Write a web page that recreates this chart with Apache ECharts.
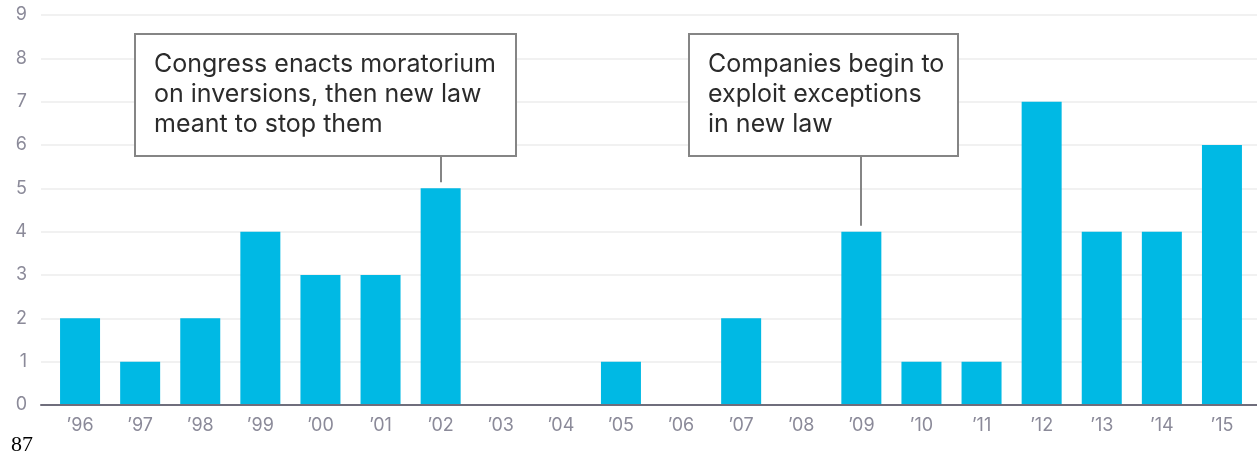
<!DOCTYPE html>
<html>
<head>
<meta charset="utf-8">
<style>
  html, body { margin: 0; padding: 0; background: #fff; }
  #chart { width: 1257px; height: 454px; }
  #pageno { position: absolute; left: 11px; top: 431px; font: 22px "Liberation Serif", "DejaVu Serif", serif; color: #000; }
</style>
<script src="https://cdn.jsdelivr.net/npm/echarts@6/dist/echarts.min.js"></script>
</head>
<body>
<div id="chart"></div>
<div id="pageno">87</div>
<script>
// Corporate inversions per year
const years = ["’96", "’97", "’98", "’99", "’00", "’01", "’02", "’03", "’04", "’05",
               "’06", "’07", "’08", "’09", "’10", "’11", "’12", "’13", "’14", "’15"];
const inversions = [2, 1, 2, 4, 3, 3, 5, 0, 0, 1, 0, 2, 0, 4, 1, 1, 7, 4, 4, 6];
const yTicks = [0, 1, 2, 3, 4, 5, 6, 7, 8, 9];

// Callouts: which year they point at, and their text lines
const notes = [
  { year: "’02", lines: ["Congress enacts moratorium", "on inversions, then new law", "meant to stop them"], left: -306, width: 381 },
  { year: "’09", lines: ["Companies begin to", "exploit exceptions", "in new law"], left: -172, width: 269 }
];

const labelColor = "#8b8a99";
const barColor = "#00b9e4";
const font = "Inter, 'Open Sans', sans-serif";

const chart = echarts.init(document.getElementById("chart"));

chart.setOption({
  animation: false,
  grid: [
    { left: 41, right: 0, top: 15, bottom: 49 },
    { left: 50, right: 5, top: 15, bottom: 49 }
  ],
  xAxis: [
    {
      gridIndex: 0, type: "value", min: 0, max: 1,
      axisLine: { show: true, lineStyle: { color: "#6f6e7c", width: 2 } },
      axisTick: { show: false }, axisLabel: { show: false }, splitLine: { show: false },
      z: 10
    },
    {
      gridIndex: 1, type: "category", data: years,
      axisLine: { show: false }, axisTick: { show: false },
      axisLabel: { color: labelColor, fontSize: 18, fontFamily: font, margin: 12 }
    }
  ],
  yAxis: [
    {
      gridIndex: 0, type: "value", min: yTicks[0], max: yTicks[yTicks.length - 1], interval: 1,
      axisLine: { show: false }, axisTick: { show: false },
      axisLabel: { color: labelColor, fontSize: 18, fontFamily: font, margin: 14 },
      splitLine: { lineStyle: { color: "#ececec", width: 1.5 } }
    },
    { gridIndex: 1, type: "value", min: 0, max: 9, show: false }
  ],
  series: [{
    type: "bar",
    xAxisIndex: 1, yAxisIndex: 1,
    data: inversions,
    barWidth: 40,
    itemStyle: { color: barColor }
  }]
});

// Callout boxes with a leader line down to the bar they describe
function drawNotes() {
  const elements = [];
  const boxTop = 34, boxBottom = 156;
  notes.forEach(n => {
    const i = years.indexOf(n.year);
    const [px, py] = chart.convertToPixel({ xAxisIndex: 1, yAxisIndex: 1 }, [i, inversions[i]]);
    const x = Math.round(px);
    elements.push({
      type: "line", silent: true,
      shape: { x1: x, y1: boxBottom, x2: x, y2: py - 6 },
      style: { stroke: "#858585", lineWidth: 2 }
    });
    elements.push({
      type: "rect", silent: true,
      shape: { x: x + n.left, y: boxTop, width: n.width, height: boxBottom - boxTop },
      style: { fill: "#fff", stroke: "#858585", lineWidth: 2 }
    });
    elements.push({
      type: "text", silent: true,
      x: x + n.left + 19, y: boxTop + 15,
      style: {
        text: n.lines.join("\n"), fill: "#2b2b2b",
        font: "25px " + font, lineHeight: 30,
        verticalAlign: "top", align: "left"
      }
    });
  });
  chart.setOption({ graphic: { elements } });
}
drawNotes();
</script>
</body>
</html>
